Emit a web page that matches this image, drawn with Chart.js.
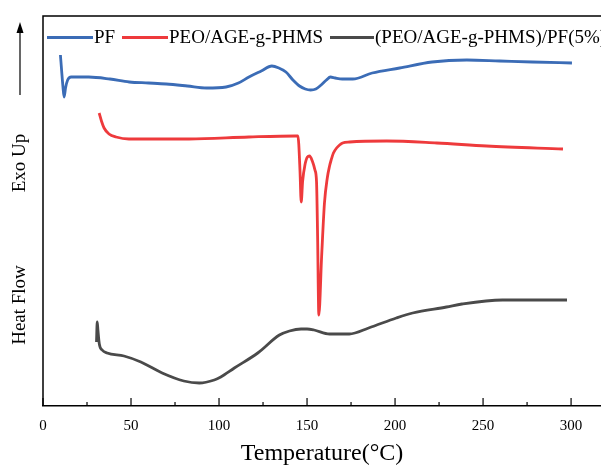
<!DOCTYPE html>
<html>
<head>
<meta charset="utf-8">
<script src="https://cdn.jsdelivr.net/npm/chart.js@4.4.0/dist/chart.umd.min.js"></script>
<style>
  html, body { margin: 0; padding: 0; background: #fff; }
</style>
</head>
<body>
<canvas id="dsc" width="601" height="466"></canvas>
<script>
// temperatures (°C) and heat flow (arbitrary units)
const pfTemp = [9.9, 11.3, 12.0, 12.8, 14.0, 16, 26, 38, 49, 60, 70, 82, 93, 104, 111, 117, 124, 130, 134, 138, 142, 145.7, 149, 152, 155, 158, 161, 163.3, 166, 170, 176, 187, 202.6, 221, 240.8, 259.5, 278, 300.5];
const pfHeat = [351, 320, 309, 318, 326, 329, 329, 327, 324, 323, 322, 320, 318, 319, 323, 329, 335, 340, 338, 334, 326, 320, 317, 316, 317, 321, 326, 329, 328, 327, 327, 333, 338, 344, 346, 345, 344, 343];

const peoTemp = [31.9, 33.2, 34.7, 37.5, 41.5, 48.8, 83, 117, 143.4, 144.8, 145.3, 146.0, 146.7, 147.5, 148.8, 150.2, 151.4, 153, 154.5, 155.4, 156.0, 156.7, 158.3, 159.9, 161.5, 162.8, 163.7, 165, 166.8, 168.5, 170.2, 174.2, 195.2, 223.7, 252, 295.4];
const peoHeat = [293, 285, 278, 272, 269, 267, 267, 269, 270, 270, 262, 235, 204, 225, 241, 249, 250, 245, 236, 224, 170, 91, 150, 203, 228, 240, 246, 253, 258, 261, 263, 264, 265, 263, 260, 257];

const compTemp = [30.4, 30.8, 31.2, 32.0, 33.6, 36.4, 46, 55.6, 67.7, 80, 88.8, 97.3, 101, 108.7, 122, 134.3, 140, 146.6, 150, 154, 162.8, 174, 185, 200.7, 210, 229.2, 238, 261, 286, 297.7];
const compHeat = [64, 84, 76, 62, 56, 53, 50, 44, 33, 25, 23, 26, 29, 38, 53, 71, 75, 77, 77, 76, 72, 72, 78, 88, 93, 99, 102, 106, 106, 106];

const seriesNames = ['PF', 'PEO/AGE-g-PHMS', '(PEO/AGE-g-PHMS)/PF(5%)'];
const seriesColors = ['#3b6cb6', '#ee3a3c', '#4a4a4a'];
const xTicks = [0, 50, 100, 150, 200, 250, 300];

const serif = "'Liberation Serif', 'Times New Roman', serif";

function toPoints(xs, ys) {
  return xs.map((t, i) => ({ x: t, y: ys[i] }));
}

const frame = {
  id: 'frame',
  afterDraw(chart) {
    const { ctx, chartArea: a, scales: { x } } = chart;
    ctx.save();
    ctx.strokeStyle = '#000';
    ctx.lineWidth = 1.5;
    ctx.beginPath();
    ctx.moveTo(a.left, a.bottom);
    ctx.lineTo(a.left, a.top);
    ctx.lineTo(a.right, a.top);
    ctx.stroke();

    // tick marks pointing inward
    ctx.lineWidth = 1.2;
    for (let v = 0; v <= 300; v += 25) {
      const px = x.getPixelForValue(v);
      const len = v % 50 === 0 ? 8 : 4;
      ctx.beginPath();
      ctx.moveTo(px, a.bottom);
      ctx.lineTo(px, a.bottom - len);
      ctx.stroke();
    }

    // legend inside the box
    const legendX = [[47, 93], [122, 168], [330, 374]];
    ctx.font = '19px ' + serif;
    ctx.textBaseline = 'middle';
    ctx.textAlign = 'left';
    chart.data.datasets.forEach((ds, i) => {
      ctx.strokeStyle = ds.borderColor;
      ctx.lineWidth = 3;
      ctx.beginPath();
      ctx.moveTo(legendX[i][0], 37.5);
      ctx.lineTo(legendX[i][1], 37.5);
      ctx.stroke();
      ctx.fillStyle = '#000';
      ctx.fillText(ds.label, legendX[i][1] + 1, 38);
    });

    // y title with arrow
    ctx.fillStyle = '#000';
    ctx.strokeStyle = '#000';
    ctx.lineWidth = 1.2;
    ctx.beginPath();
    ctx.moveTo(20, 95);
    ctx.lineTo(20, 30);
    ctx.stroke();
    ctx.beginPath();
    ctx.moveTo(20, 22);
    ctx.lineTo(16.5, 33);
    ctx.lineTo(23.5, 33);
    ctx.closePath();
    ctx.fill();

    ctx.font = '19px ' + serif;
    ctx.textAlign = 'center';
    ctx.textBaseline = 'middle';
    [['Exo Up', 163], ['Heat Flow', 305]].forEach(([txt, cy]) => {
      ctx.save();
      ctx.translate(20, cy);
      ctx.rotate(-Math.PI / 2);
      ctx.fillText(txt, 0, 0);
      ctx.restore();
    });
    ctx.restore();
  }
};

new Chart(document.getElementById('dsc'), {
  type: 'line',
  data: {
    datasets: [
      { label: seriesNames[0], data: toPoints(pfTemp, pfHeat), borderColor: seriesColors[0] },
      { label: seriesNames[1], data: toPoints(peoTemp, peoHeat), borderColor: seriesColors[1] },
      { label: seriesNames[2], data: toPoints(compTemp, compHeat), borderColor: seriesColors[2] }
    ]
  },
  options: {
    responsive: false,
    animation: false,
    devicePixelRatio: 1,
    layout: { padding: { left: 43, top: 16, right: 0, bottom: 0 } },
    elements: {
      line: { borderWidth: 2.8, cubicInterpolationMode: 'monotone', fill: false },
      point: { radius: 0 }
    },
    plugins: { legend: { display: false }, tooltip: { enabled: false } },
    scales: {
      x: {
        type: 'linear',
        min: 0,
        max: 317,
        afterFit: s => { s.height = 60; },
        afterBuildTicks: s => { s.ticks = xTicks.map(v => ({ value: v })); },
        grid: { display: false },
        border: { display: true, color: '#000', width: 1.5 },
        ticks: { color: '#000', padding: 3, maxRotation: 0, font: { family: serif, size: 15 } },
        title: {
          display: true,
          text: 'Temperature(°C)',
          color: '#000',
          padding: { top: 0, bottom: 0 },
          font: { family: serif, size: 24, lineHeight: 1 }
        }
      },
      y: { display: false, min: 0, max: 390 }
    }
  },
  plugins: [frame]
});
</script>
</body>
</html>
